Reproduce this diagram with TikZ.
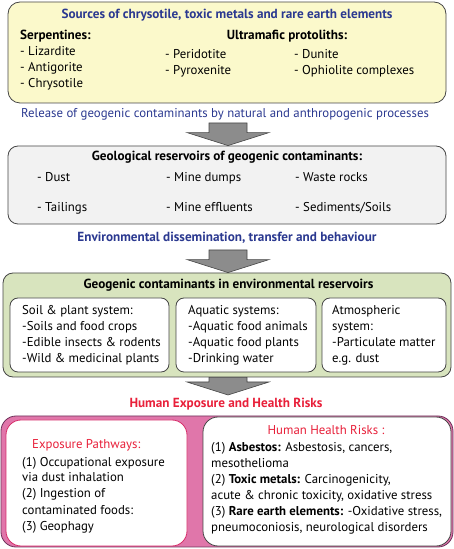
\documentclass[tikz,border=0pt]{standalone}
\usepackage{fontspec}
\setmainfont{PT Sans}
\usetikzlibrary{calc}

\definecolor{titleblue}{RGB}{43,57,144}
\definecolor{riskred}{RGB}{232,32,58}
\definecolor{srcyellow}{RGB}{251,249,203}
\definecolor{resgray}{RGB}{242,242,242}
\definecolor{envgreen}{RGB}{216,228,190}
\definecolor{exppink}{RGB}{224,118,170}
\definecolor{edge}{RGB}{70,70,70}
\definecolor{pinkedge}{RGB}{215,45,105}
\definecolor{arrgray}{RGB}{140,140,140}

\newcommand{\hdfont}{\fontsize{13.2}{16}\selectfont\bfseries}
\newcommand{\bdfont}{\fontsize{12.8}{16}\selectfont}

\tikzset{
  panel/.style={draw=edge, line width=0.8pt, rounded corners=10pt, inner sep=0pt},
  lbl/.style={inner sep=0pt, font=\bdfont},
  head/.style={inner sep=0pt, font=\hdfont, anchor=base},
  list/.style={lbl, align=left, anchor=base west},
  fatarrow/.style={draw=edge, fill=arrgray, line width=0.6pt, line join=miter}
}

\newcommand{\fatdown}[2]{%
  \draw[fatarrow] ($(#1)+(-19,0)$) -- ($(#2)+(-19,13)$) -- ($(#2)+(-41,13)$) -- (#2)
    -- ($(#2)+(41,13)$) -- ($(#2)+(19,13)$) -- ($(#1)+(19,0)$) -- cycle;}

\begin{document}
\begin{tikzpicture}[x=1pt, y=1pt]
\useasboundingbox (0,0) rectangle (454,549);

\node[panel, fill=srcyellow, rounded corners=12pt, minimum width=438pt, minimum height=101pt] (src) at (227,496.5) {};
\node[head, text=titleblue] (srctitle) at (227,530.5) {Sources of chrysotile, toxic metals and rare earth elements};
\node[head, anchor=base west] (serp) at (20,509) {Serpentines:};
\node[list] (serplist) at (20,461) {- Lizardite\\- Antigorite\\- Chrysotile};
\node[head] (ultra) at (287,509) {Ultramafic protoliths:};
\node[list] (ultralist1) at (165,474) {- Peridotite\\- Pyroxenite};
\node[list] (ultralist2) at (294,474) {- Dunite\\- Ophiolite complexes};

\node[lbl, anchor=base, text=titleblue] (release) at (225,431) {Release of geogenic contaminants by natural and anthropogenic processes};

\node[panel, fill=resgray, minimum width=438pt, minimum height=78pt] (geo) at (227,364) {};
\node[head] (geotitle) at (227,388) {Geological reservoirs of geogenic contaminants:};
\node[lbl, anchor=base west] (dust) at (37,367) {- Dust};
\node[lbl, anchor=base west] (dumps) at (166,367) {- Mine dumps};
\node[lbl, anchor=base west] (waste) at (295,367) {- Waste rocks};
\node[lbl, anchor=base west] (tail) at (37,337) {- Tailings};
\node[lbl, anchor=base west] (effl) at (166,337) {- Mine effluents};
\node[lbl, anchor=base west] (sedi) at (295,337) {- Sediments/Soils};

\node[head, text=titleblue] (dissem) at (227,307) {Environmental dissemination, transfer and behaviour};

\node[panel, fill=envgreen, minimum width=448pt, minimum height=104pt] (env) at (227,224) {};
\node[head] (envtitle) at (228.5,260) {Geogenic contaminants in environmental reservoirs};
\node[panel, fill=white, rounded corners=8pt, minimum width=159pt, minimum height=74pt] (soil) at (89.5,214) {};
\node[panel, fill=white, rounded corners=8pt, minimum width=140pt, minimum height=74pt] (aqua) at (246,214) {};
\node[panel, fill=white, rounded corners=8pt, minimum width=124pt, minimum height=74pt] (atmo) at (384,214) {};
\node[list] (soillist) at (22,186) {Soil \& plant system:\\-Soils and food crops\\-Edible insects \& rodents\\-Wild \& medicinal plants};
\node[list] (aqualist) at (188,186) {Aquatic systems:\\-Aquatic food animals\\-Aquatic food plants\\-Drinking water};
\node[list] (atmolist) at (332,186) {Atmospheric\\system:\\-Particulate matter\\e.g. dust};

\node[head, text=riskred] (human) at (226,141) {Human Exposure and Health Risks};

\node[panel, fill=exppink, draw={rgb,255:red,110;green,50;blue,90}, rounded corners=15pt, minimum width=452pt, minimum height=131pt] (risk) at (227,67.5) {};
\node[panel, fill=white, draw=pinkedge, rounded corners=15pt, minimum width=181pt, minimum height=126pt] (path) at (96.5,66) {};
\node[panel, fill=white, rounded corners=15pt, minimum width=248pt, minimum height=129pt] (health) at (327,67.5) {};
\node[lbl, anchor=base west, text=riskred] (pathtitle) at (32,100) {Exposure Pathways:};
\node[list] (pathlist) at (22,19) {(1) Occupational exposure\\via dust inhalation\\(2) Ingestion of\\contaminated foods:\\(3) Geophagy};
\node[lbl, anchor=base, text=riskred] (healthtitle) at (326,114) {Human Health Risks :};
\node[list] (healthlist) at (211,17) {(1) \textbf{Asbestos:} Asbestosis, cancers,\\mesothelioma\\(2) \textbf{Toxic metals:} Carcinogenicity,\\acute \& chronic toxicity, oxidative stress\\(3) \textbf{Rare earth elements:} -Oxidative stress,\\pneumoconiosis, neurological disorders};

\coordinate (a1) at (228,426);
\coordinate (a2) at (228,299);
\fatdown{a1}{a1 |- geo.north}
\fatdown{a2}{a2 |- env.north}
\fatdown{a2 |- env.south}{228,154}

\end{tikzpicture}
\end{document}
